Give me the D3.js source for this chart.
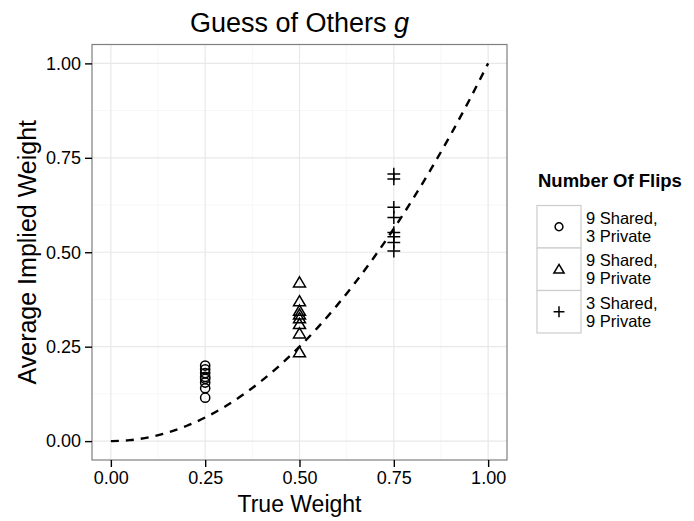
<!DOCTYPE html>
<html>
<head>
<meta charset="utf-8">
<script src="https://cdn.jsdelivr.net/npm/d3@7"></script>
<style>
    body { margin:0; background:#fff; }
    svg { font-family:"Liberation Sans", Arial, Helvetica, sans-serif; }
</style>
</head>
<body>
<svg id="chart" width="694" height="521"></svg>
<script>
// data
var trueWeights = [0.25, 0.50, 0.75];
var groupNames = ["9 Shared,\n3 Private", "9 Shared,\n9 Private", "3 Shared,\n9 Private"];
var groupShapes = ["circle", "triangle", "cross"];
var circleVals = [0.20, 0.19, 0.18, 0.17, 0.165, 0.155, 0.14, 0.115];
var triangleVals = [0.42, 0.37, 0.345, 0.335, 0.325, 0.31, 0.285, 0.235];
var crossVals = [0.707, 0.694, 0.619, 0.592, 0.552, 0.541, 0.526, 0.503];
// dashed reference curve
var curveX = [0, 0.05, 0.1, 0.15, 0.2, 0.25, 0.3, 0.35, 0.4, 0.45, 0.5, 0.55, 0.6, 0.65, 0.7, 0.75, 0.8, 0.85, 0.9, 0.95, 1];
var curveY = [0, 0.0025, 0.01, 0.0225, 0.04, 0.0625, 0.09, 0.1225, 0.16, 0.2025, 0.25, 0.3025, 0.36, 0.4225, 0.49, 0.5625, 0.64, 0.7225, 0.81, 0.9025, 1];
var majorTicks = [0, 0.25, 0.5, 0.75, 1];
var minorTicks = [0.125, 0.375, 0.625, 0.875];

var svg = d3.select("#chart");
var panel = {left:92, right:507, top:44.5, bottom:460};

var x = d3.scaleLinear().domain([-0.05, 1.05]).range([panel.left, panel.right]);
var y = d3.scaleLinear().domain([-0.05, 1.05]).range([panel.bottom, panel.top]);

// grid
var grid = svg.append("g");
grid.selectAll(".vmin").data(minorTicks).enter().append("line")
    .attr("x1", function(d){ return x(d); }).attr("x2", function(d){ return x(d); })
    .attr("y1", panel.top).attr("y2", panel.bottom)
    .attr("stroke", "#f7f7f7").attr("stroke-width", 1);
grid.selectAll(".hmin").data(minorTicks).enter().append("line")
    .attr("y1", function(d){ return y(d); }).attr("y2", function(d){ return y(d); })
    .attr("x1", panel.left).attr("x2", panel.right)
    .attr("stroke", "#f7f7f7").attr("stroke-width", 1);
grid.selectAll(".vmaj").data(majorTicks).enter().append("line")
    .attr("x1", function(d){ return x(d); }).attr("x2", function(d){ return x(d); })
    .attr("y1", panel.top).attr("y2", panel.bottom)
    .attr("stroke", "#e8e8e8").attr("stroke-width", 1.2);
grid.selectAll(".hmaj").data(majorTicks).enter().append("line")
    .attr("y1", function(d){ return y(d); }).attr("y2", function(d){ return y(d); })
    .attr("x1", panel.left).attr("x2", panel.right)
    .attr("stroke", "#e8e8e8").attr("stroke-width", 1.2);

// dashed curve
var line = d3.line()
    .x(function(d){ return x(d[0]); })
    .y(function(d){ return y(d[1]); })
    .curve(d3.curveMonotoneX);
svg.append("path")
    .datum(d3.zip(curveX, curveY))
    .attr("d", line)
    .attr("fill", "none")
    .attr("stroke", "#000")
    .attr("stroke-width", 2.4)
    .attr("stroke-dasharray", "8,7");

// shapes
function drawShape(g, shape, size) {
    if (shape == "circle") {
        g.append("circle").attr("r", size * 0.46)
            .attr("fill", "none").attr("stroke", "#000").attr("stroke-width", 1.5);
    } else if (shape == "triangle") {
        var s = size * 0.6;
        g.append("path")
            .attr("d", "M0," + (-s * 0.95) + "L" + s + "," + (s * 0.75) + "L" + (-s) + "," + (s * 0.75) + "Z")
            .attr("fill", "none").attr("stroke", "#000").attr("stroke-width", 1.5);
    } else {
        var c = size * 0.64;
        g.append("path")
            .attr("d", "M" + (-c) + ",0L" + c + ",0M0," + (-c) + "L0," + c)
            .attr("fill", "none").attr("stroke", "#000").attr("stroke-width", 1.5);
    }
}

var series = [circleVals, triangleVals, crossVals];
series.forEach(function(vals, i) {
    vals.forEach(function(v) {
        var g = svg.append("g").attr("transform", "translate(" + x(trueWeights[i]) + "," + y(v) + ")");
        drawShape(g, groupShapes[i], 10);
    });
});

// panel border
svg.append("rect")
    .attr("x", panel.left).attr("y", panel.top)
    .attr("width", panel.right - panel.left).attr("height", panel.bottom - panel.top)
    .attr("fill", "none").attr("stroke", "#7f7f7f").attr("stroke-width", 1.2);

// axes
var xAxis = d3.axisBottom(x).tickValues(majorTicks).tickFormat(d3.format(".2f")).tickSize(7).tickPadding(4);
var gx = svg.append("g").attr("transform", "translate(0," + panel.bottom + ")").call(xAxis);
var yAxis = d3.axisLeft(y).tickValues(majorTicks).tickFormat(d3.format(".2f")).tickSize(7).tickPadding(4);
var gy = svg.append("g").attr("transform", "translate(" + panel.left + ",0)").call(yAxis);
[gx, gy].forEach(function(g) {
    g.select(".domain").remove();
    g.selectAll(".tick line").attr("stroke", "#000").attr("stroke-width", 1.4);
    g.selectAll(".tick text").attr("fill", "#000").style("font-size", "18px");
});

// titles
svg.append("text").attr("x", (panel.left + panel.right) / 2).attr("y", 32)
    .attr("text-anchor", "middle").style("font-size", "27px")
    .html('Guess of Others <tspan font-style="italic">g</tspan>');
svg.append("text").attr("x", (panel.left + panel.right) / 2).attr("y", 512)
    .attr("text-anchor", "middle").style("font-size", "23px").text("True Weight");
svg.append("text").attr("transform", "translate(36," + ((panel.top + panel.bottom) / 2) + ") rotate(-90)")
    .attr("text-anchor", "middle").style("font-size", "25px").text("Average Implied Weight");

// legend
var legend = svg.append("g").attr("transform", "translate(537,0)");
legend.append("text").attr("x", 1).attr("y", 187)
    .style("font-size", "18.5px").style("font-weight", "bold").text("Number Of Flips");
var keyH = 42.5, keyW = 44, keyTop = 205.5;
groupNames.forEach(function(name, i) {
    var k = legend.append("g").attr("transform", "translate(0," + (keyTop + i * keyH) + ")");
    k.append("rect").attr("width", keyW).attr("height", keyH)
        .attr("fill", "#fff").attr("stroke", "#cccccc").attr("stroke-width", 1.2);
    var sg = k.append("g").attr("transform", "translate(" + keyW / 2 + "," + keyH / 2 + ")");
    drawShape(sg, groupShapes[i], 8.5);
    var lines = name.split("\n");
    var t = k.append("text").style("font-size", "16.5px");
    lines.forEach(function(l, j) {
        t.append("tspan").attr("x", keyW + 5).attr("y", keyH / 2 + (j - 0.5) * 18 + 6).text(l);
    });
});
</script>
</body>
</html>
